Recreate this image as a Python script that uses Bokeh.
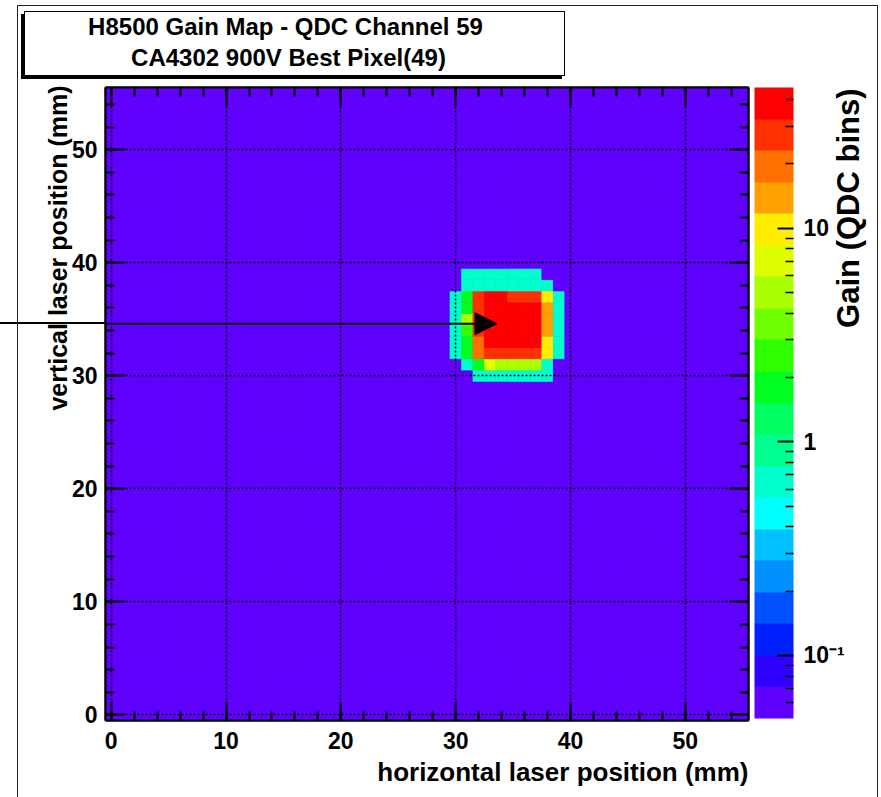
import numpy as np
from math import pi
from bokeh.plotting import figure
from bokeh.models import (ColumnDataSource, Range1d, LinearAxis, SingleIntervalTicker, FixedTicker,
                          LogColorMapper, ColorBar, Label, Arrow, NormalHead,
                          CustomJSTickFormatter)
from bokeh.embed import file_html
from bokeh.resources import INLINE

FONT = "Liberation Sans"

# ---------------- data ----------------
title_lines = ["H8500 Gain Map - QDC Channel 59", "CA4302 900V Best Pixel(49)"]
x_label = "horizontal laser position (mm)"
y_label = "vertical laser position (mm)"
z_label = "Gain (QDC bins)"

x_bins = list(range(56))          # bin centres (mm)
y_bins = list(range(56))
baseline_gain = 0.06              # gain of every bin outside the spot

spot_x = [29, 30, 31, 32, 33, 34, 35, 36, 37, 38, 39, 40]
spot_y = [39, 38, 37, 36, 35, 34, 33, 32, 31, 30]
B = baseline_gain
C = 0.65
spot_gain = [
    # x: 29   30   31   32   33   34   35   36   37   38   39   40
    [B, B, C, C, C, C, C, C, C, B, B, B],            # y=39
    [B, B, C, C, C, C, C, C, C, C, B, B],            # y=38
    [B, C, 2.0, 27, 38, 38, 27, 27, 27, 10, C, B],    # y=37
    [B, C, 2.0, 27, 38, 38, 38, 38, 38, 14, C, B],    # y=36
    [B, C, 5.0, 27, 38, 38, 38, 38, 38, 14, C, B],    # y=35
    [B, C, 2.5, 27, 38, 38, 38, 38, 38, 14, C, B],    # y=34
    [B, C, 2.0, 19, 38, 38, 38, 38, 38, 10, C, B],    # y=33
    [B, C, 2.0, 19, 27, 27, 27, 27, 27, 10, C, B],    # y=32
    [B, B, C, 2.0, 7.0, 5.0, 5.0, 5.0, 5.0, C, B, B],  # y=31
    [B, B, B, C, C, C, C, C, C, C, B, B],            # y=30
]

z_min, z_max = 0.0507, 45.6
palette = ["#6000ff", "#3000ff", "#0020ff", "#0050ff", "#0090ff", "#00c0ff", "#00ffff",
           "#00ffcc", "#00ff90", "#00ff60", "#00ff20", "#30ff00", "#70ff00", "#aaff00",
           "#ddff00", "#ffee00", "#ffa000", "#ff7000", "#ff3000", "#ff0000"]

axis_major_step = 10
z_ticks = [0.1, 1, 10]
z_tick_labels = ["10\u207b\u00b9", "1", "10"]
z_minor_ticks = [0.06, 0.07, 0.08, 0.09, 0.2, 0.3, 0.4, 0.5, 0.6, 0.7, 0.8, 0.9,
                 2, 3, 4, 5, 6, 7, 8, 9, 20, 30, 40]
best_pixel = (33.6, 34.6)

# ---------------- build grid ----------------
gain = np.full((len(y_bins), len(x_bins)), baseline_gain, dtype=float)
for r, yv in enumerate(spot_y):
    for c, xv in enumerate(spot_x):
        gain[y_bins.index(yv), x_bins.index(xv)] = spot_gain[r][c]
xx, yy = np.meshgrid(x_bins, y_bins)
src = ColumnDataSource(dict(x=xx.ravel(), y=yy.ravel(), gain=gain.ravel()))
bw = x_bins[1] - x_bins[0]
bh = y_bins[1] - y_bins[0]

mapper = LogColorMapper(palette=palette, low=z_min, high=z_max)

# decorative canvas pieces: title pave with shadow, outer canvas border,
# and the part of the pointer line that runs left of the frame
css = """
:host {
  background: linear-gradient(#000, #000) 0px 322px / 105px 2px no-repeat;
}
:host::before {
  content: ""; position: absolute; left: 24px; top: 11px; width: 541px; height: 65px;
  box-sizing: border-box; border: 1px solid #000; background: #fff;
  box-shadow: -3px 3px 0 #000; pointer-events: none; z-index: -1;
}
:host::after {
  content: ""; position: absolute; left: 17px; top: 5px; width: 861px; height: 792px;
  box-sizing: border-box; border: 1.5px solid #222; border-bottom: none;
  pointer-events: none; z-index: 10;
}
"""

p = figure(width=881, height=797, output_backend="svg", toolbar_location=None,
           x_range=Range1d(x_bins[0] - bw / 2, x_bins[-1] + bw / 2),
           y_range=Range1d(y_bins[0] - bh / 2, y_bins[-1] + bh / 2),
           min_border_left=105, min_border_right=133, min_border_top=87, min_border_bottom=77,
           stylesheets=[css])
p.background_fill_color = palette[0]
p.border_fill_alpha = 0
p.outline_line_color = "black"
p.outline_line_width = 2

p.rect("x", "y", width=bw, height=bh, source=src,
       fill_color={"field": "gain", "transform": mapper},
       line_color={"field": "gain", "transform": mapper}, line_width=0.6)

# axes
def style_axis(ax, labels=True, standoff=8):
    ax.ticker = SingleIntervalTicker(interval=axis_major_step, num_minor_ticks=5)
    ax.major_tick_in = 19
    ax.major_tick_out = 0
    ax.minor_tick_in = 9
    ax.minor_tick_out = 0
    ax.major_tick_line_width = 2
    ax.minor_tick_line_width = 2
    ax.major_tick_line_color = "black"
    ax.minor_tick_line_color = "black"
    ax.axis_line_width = 2
    ax.axis_line_color = "black"
    ax.major_label_standoff = standoff
    ax.major_label_text_font = FONT
    ax.major_label_text_font_style = "bold"
    ax.major_label_text_font_size = "23px"
    ax.major_label_text_color = "black"
    if not labels:
        ax.formatter = CustomJSTickFormatter(code="return ''")
        ax.major_label_standoff = 0

style_axis(p.xaxis[0], standoff=11)
style_axis(p.yaxis[0], standoff=8)
top_ax = LinearAxis()
style_axis(top_ax, labels=False)
p.add_layout(top_ax, "above")
right_ax = LinearAxis()
style_axis(right_ax, labels=False)
p.add_layout(right_ax, "right")

for g in (p.xgrid[0], p.ygrid[0]):
    g.ticker = SingleIntervalTicker(interval=axis_major_step, num_minor_ticks=0)
    g.grid_line_color = "black"
    g.grid_line_dash = "2 2"
    g.grid_line_width = 1.5
    g.level = "guide"

# colour bar
cb = ColorBar(color_mapper=mapper, orientation="vertical", width=39, height=631,
              location=(649, 2), padding=0,
              ticker=FixedTicker(ticks=z_ticks, minor_ticks=z_minor_ticks),
              formatter=CustomJSTickFormatter(args=dict(vals=z_ticks, labels=z_tick_labels),
                  code="for (let i = 0; i < vals.length; i++) { if (Math.abs(vals[i] - tick) <= 1e-6 * vals[i]) return labels[i]; } return '';"),
              major_label_text_font=FONT, major_label_text_font_style="bold",
              major_label_text_font_size="23px", major_label_text_color="black",
              major_tick_in=16, major_tick_out=0, minor_tick_in=8, minor_tick_out=0,
              major_tick_line_color="black", major_tick_line_width=2,
              minor_tick_line_color="black", minor_tick_line_width=1.5,
              label_standoff=10, bar_line_color=None, border_line_color=None,
              background_fill_alpha=0)
p.add_layout(cb)

def canvas_label(text, x, y, size, align="center", angle=0):
    return Label(x=x, y=y, x_units="canvas", y_units="canvas", text=text, angle=angle,
                 text_align=align, text_baseline="middle", text_font=FONT,
                 text_font_style="bold", text_font_size=size, text_color="black")

# title lines (inside the pave drawn by the stylesheet)
p.add_layout(canvas_label(title_lines[1], 288, 57, "24px"), "above")
p.add_layout(canvas_label(title_lines[0], 285, 26, "24px"), "above")
# axis titles
p.add_layout(canvas_label(x_label, 748, 771, "26px", align="right"), "below")
p.add_layout(canvas_label(y_label, 57, 85, "25px", align="right", angle=pi / 2), "left")
p.add_layout(canvas_label(z_label, 848, 88, "31px", align="right", angle=pi / 2), "right")

# arrow pointing at best pixel
p.add_layout(Arrow(end=NormalHead(size=22, fill_color="black", line_color="black"),
                   x_start=-9.6, y_start=best_pixel[1], x_end=best_pixel[0], y_end=best_pixel[1],
                   line_color="black", line_width=2))

open("out.html", "w").write(file_html(p, INLINE))
